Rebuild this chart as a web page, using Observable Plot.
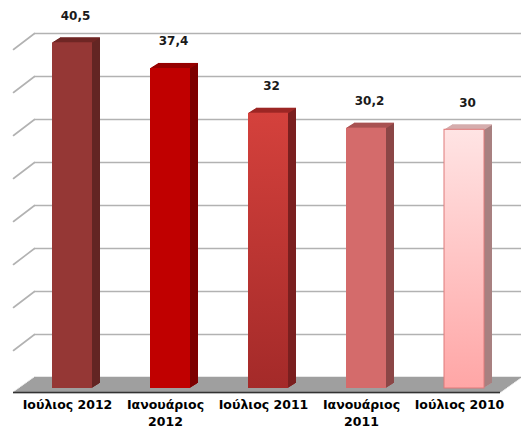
<!DOCTYPE html>
<html>
<head>
<meta charset="utf-8">
<script src="https://cdn.jsdelivr.net/npm/d3@7"></script>
<script src="https://cdn.jsdelivr.net/npm/@observablehq/plot@0.6"></script>
<style>
  html, body { margin: 0; padding: 0; background: #fff; }
  #wrap { position: relative; width: 522px; height: 431px; overflow: hidden; font-family: "DejaVu Sans", Verdana, sans-serif; }
  #wrap svg { position: absolute; left: 0; top: 0; }
</style>
</head>
<body>
<div id="wrap"></div>
<script>
// ---- data ----
const categories = ["Ιούλιος 2012", "Ιανουάριος 2012", "Ιούλιος 2011", "Ιανουάριος 2011", "Ιούλιος 2010"];
const values = [40.5, 37.4, 32, 30.2, 30];
const gridTicks = [5, 10, 15, 20, 25, 30, 35, 40];
const frontColors = ["#953735", "#c00000", "url(#gBar3)", "#d46b6b", "url(#gBar5)"];
const topColors = ["#6f2624", "#960000", "#9c2624", "#a85252", "#d5adad"];
const sideColors = ["#632523", "#7d0000", "#7a1f1f", "#8b4646", "#a88080"];
const edgeColors = ["none", "none", "none", "none", "#e07a7a"];

const data = categories.map((c, i) => ({
  cat: c, value: values[i], label: String(values[i]).replace(".", ","),
  front: frontColors[i], top: topColors[i], side: sideColors[i], edge: edgeColors[i]
}));

const W = 522, H = 431;
const wrap = document.getElementById("wrap");

// ---- back layer: wall grid, left diagonals, floor ----
const lineShape = { draw(context, l) { context.moveTo(0, 0); context.lineTo(0, -l); } };
const floorMarks = d3.range(0, 16).map(i =>
  Plot.ruleY([0], { dy: i, dx: -i * 21 / 15, stroke: "#9f9f9f", strokeWidth: 1.5 })
);
const back = Plot.plot({
  width: W, height: H,
  marginTop: 33, marginBottom: 54, marginLeft: 34, marginRight: 1,
  y: { domain: [0, 40], axis: null },
  style: { background: "transparent", overflow: "visible" },
  marks: [
    Plot.ruleY(gridTicks, { stroke: "#b2b2b2", strokeWidth: 1.6 }),
    Plot.vector(gridTicks, { y: d => d, frameAnchor: "left", length: 26.4, rotate: 232.7, anchor: "start",
      shape: lineShape, stroke: "#b2b2b2", strokeWidth: 1.6 }),
    ...floorMarks,
    Plot.ruleY([0], { dy: 15, dx: -21, stroke: "#333", strokeWidth: 1.6 })
  ]
});
wrap.appendChild(back);

// ---- front layer: 3D bars and labels ----
const depth = 8, rise = 5;
const topMarks = d3.range(1, depth + 1).map(i =>
  Plot.barY(data, { x: "cat", y: "value", fill: "top", insetBottom: -10, dx: i, dy: -i * rise / depth })
);
const sideMarks = d3.range(1, depth + 1).map(i =>
  Plot.barY(data, { x: "cat", y: "value", fill: "side", insetBottom: -10, insetLeft: 39, insetTop: 1, dx: i, dy: -i * rise / depth })
);
const front = Plot.plot({
  width: W, height: H,
  marginTop: 46.4, marginBottom: 53, marginLeft: 24, marginRight: 11,
  x: { type: "band", domain: categories, paddingInner: 0.594, paddingOuter: 0.267, label: null },
  y: { domain: [0, 40], axis: null },
  color: { type: "identity" },
  style: { background: "transparent", overflow: "visible" },
  marks: [
    ...topMarks,
    ...sideMarks,
    Plot.barY(data, { x: "cat", y: "value", fill: "front", stroke: "edge", strokeWidth: 1, insetBottom: -10 }),
    Plot.text(data, { x: "cat", y: "value", text: "label", dy: -27, dx: 3,
      fontSize: 12, fontWeight: "bold", fill: "#1a1a1a", fontFamily: "DejaVu Sans" }),
    Plot.axisX({ tickSize: 0, tickPadding: 19, dx: -5, fontSize: 12.5, fontWeight: "bold",
      fontFamily: "DejaVu Sans", fill: "#000", lineHeight: 1.35,
      tickFormat: d => d.length > 12 ? d.replace(" ", "\n") : d })
  ]
});
// gradients for bars 3 and 5
const defs = d3.select(front).insert("defs", ":first-child");
const g3 = defs.append("linearGradient").attr("id", "gBar3").attr("x1", 0).attr("y1", 0).attr("x2", 0).attr("y2", 1);
g3.append("stop").attr("offset", "0%").attr("stop-color", "#d4413c");
g3.append("stop").attr("offset", "100%").attr("stop-color", "#a42a29");
const g5 = defs.append("linearGradient").attr("id", "gBar5").attr("x1", 0).attr("y1", 0).attr("x2", 0).attr("y2", 1);
g5.append("stop").attr("offset", "0%").attr("stop-color", "#ffe4e4");
g5.append("stop").attr("offset", "100%").attr("stop-color", "#ffa6a6");
wrap.appendChild(front);
</script>
</body>
</html>
